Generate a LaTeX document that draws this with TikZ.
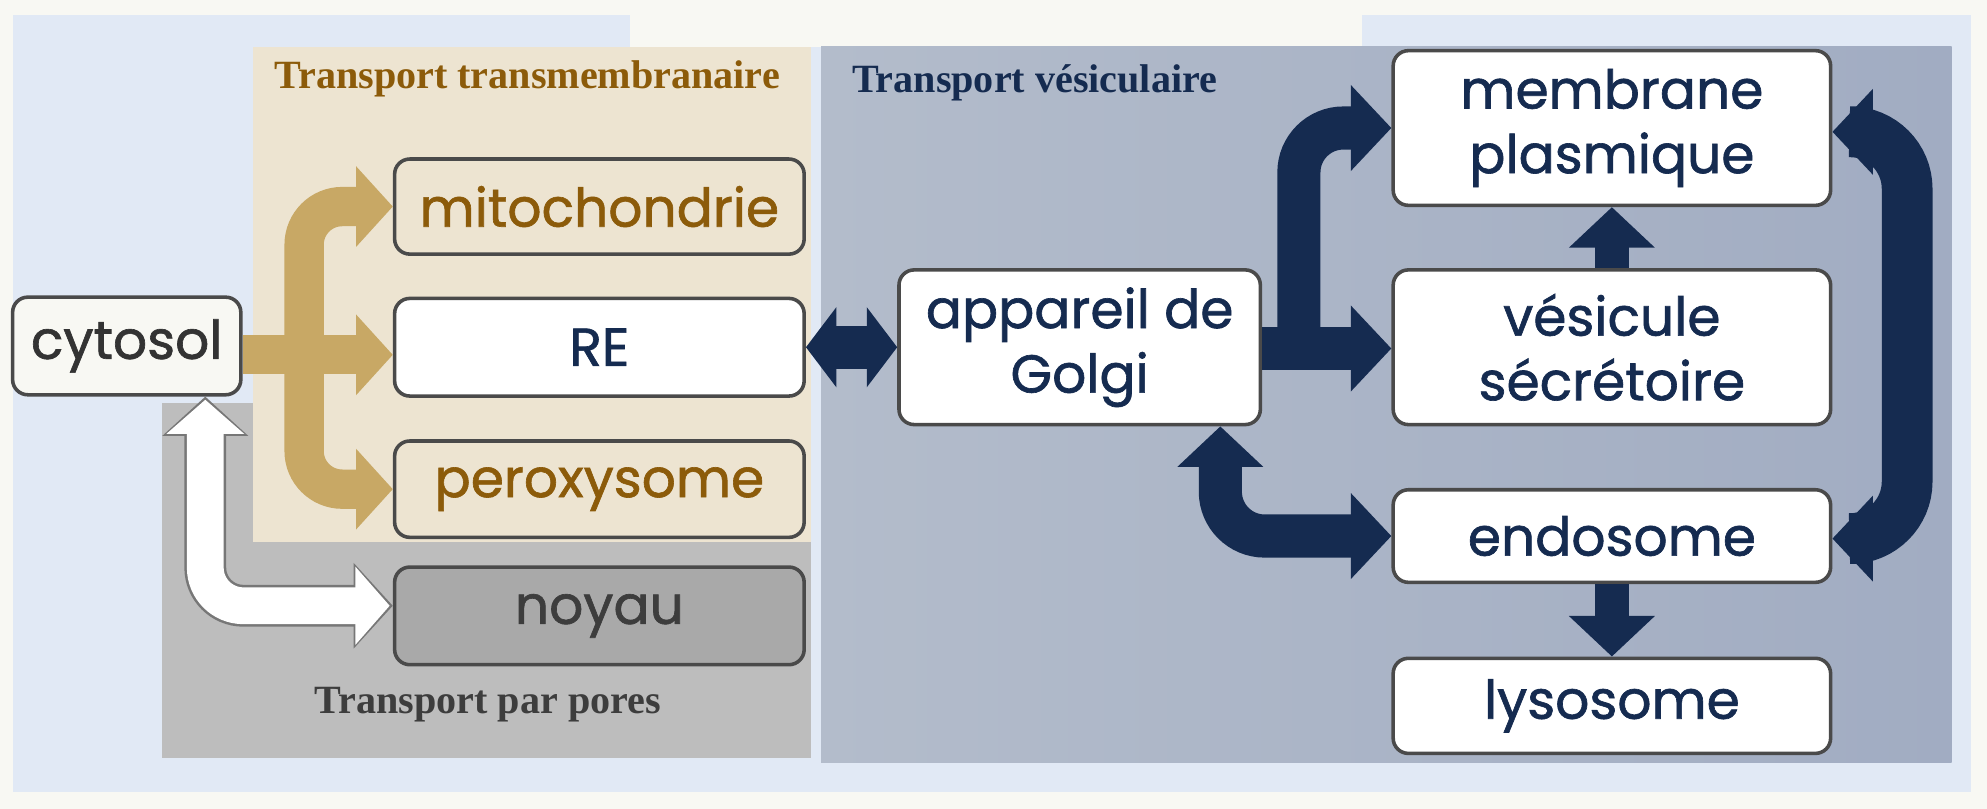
\documentclass[tikz,border=0pt]{standalone}
\usepackage{fontspec}
\setmainfont{Liberation Serif}
\newfontfamily\boxfont[FakeBold=1.2]{Poppins}
\usetikzlibrary{arrows.meta}
\definecolor{cream}{HTML}{F8F8F3}
\definecolor{lblue}{HTML}{E1E9F5}
\definecolor{tanp}{HTML}{EDE4D1}
\definecolor{tana}{HTML}{C8A865}
\definecolor{brownt}{HTML}{8C5B0A}
\definecolor{navy}{HTML}{152B50}
\definecolor{grayp}{HTML}{BDBDBD}
\definecolor{noyf}{HTML}{A9A9A9}
\definecolor{noyt}{HTML}{3D3D3D}
\definecolor{vesL}{HTML}{B3BCCB}
\definecolor{vesR}{HTML}{A1ACC2}
\definecolor{bord}{HTML}{4A4A4A}
\tikzset{
 box/.style={draw=bord,line width=0.8pt,rounded corners=0.12cm,fill=white,
   font=\boxfont\fontsize{12}{14.5}\selectfont,align=center,text=navy,inner sep=0pt},
 title/.style={font=\bfseries\fontsize{9}{11}\selectfont},
 tanarr/.style={draw=tana,line width=0.31cm,rounded corners=0.3cm,-{Triangle[width=0.62cm,length=0.29cm]}},
 navarr/.style={draw=navy,line width=0.34cm,rounded corners=0.35cm},
 navtip/.style={-{Triangle[width=0.66cm,length=0.32cm]}},
 navtips/.style={{Triangle[width=0.66cm,length=0.32cm]}-{Triangle[width=0.66cm,length=0.32cm]}},
}
\begin{document}
\begin{tikzpicture}[x=0.01cm,y=-0.01cm]
\useasboundingbox (0,0) rectangle (1568,638);
\fill[cream] (0,0) rectangle (1568,638);
\fill[lblue] (10,12) rectangle (497,625);
\fill[lblue] (1075,12) rectangle (1555,625);
\fill[lblue] (497,37) rectangle (1075,625);
\fill[grayp] (128,318) rectangle (640,598);
\fill[tanp] (200,37) rectangle (640,428);
\shade[left color=vesL,right color=vesR] (648,37) rectangle (1540,602);
\node[title,text=brownt] (t1) at (416,62) {Transport transmembranaire};
\node[title,text=navy,anchor=west] (t2) at (660,65) {Transport vésiculaire};
\node[title,text=noyt] (t3) at (385,556) {Transport par pores};
% boxes
\node[box,fill=cream,text=black!80,minimum width=1.8cm,minimum height=0.77cm] (cyt) at (100,273) {cytosol};
\node[box,fill=tanp,text=brownt,minimum width=3.23cm,minimum height=0.75cm] (mit) at (473,163) {mitochondrie};
\node[box,minimum width=3.23cm,minimum height=0.77cm] (re) at (473,274) {RE};
\node[box,fill=tanp,text=brownt,minimum width=3.23cm,minimum height=0.76cm] (per) at (473,386) {peroxysome};
\node[box,fill=noyf,text=noyt,minimum width=3.23cm,minimum height=0.77cm] (noy) at (473,486) {noyau};
\node[box,minimum width=2.85cm,minimum height=1.22cm] (gol) at (852,274) {appareil de\\Golgi};
\node[box,minimum width=3.45cm,minimum height=1.22cm] (mem) at (1272,101) {membrane\\plasmique};
\node[box,minimum width=3.45cm,minimum height=1.22cm] (ves) at (1272,274) {vésicule\\sécrétoire};
\node[box,minimum width=3.45cm,minimum height=0.73cm] (endo) at (1272,423) {endosome};
\node[box,minimum width=3.45cm,minimum height=0.75cm] (lys) at (1272,557) {lysosome};
% tan arrows
\coordinate (b0) at (240,280);
\draw[tanarr] (cyt.east |- 0,280) -- (re.west |- 0,280);
\draw[tanarr] (b0) |- (mit.west);
\draw[tanarr] (b0) |- (per.west);
% white arrow
\draw[draw=noyt!70,line width=0.33cm,rounded corners=0.3cm,{Triangle[width=0.66cm,length=0.31cm]}-{Triangle[width=0.66cm,length=0.31cm]}] (cyt.south -| 162,0) |- (noy.west |- 0,478);
\draw[draw=white,line width=0.29cm,rounded corners=0.3cm,{Triangle[width=0.6cm,length=0.27cm]}-{Triangle[width=0.6cm,length=0.27cm]},shorten <=0.025cm,shorten >=0.025cm] (cyt.south -| 162,0) |- (noy.west |- 0,478);
% navy arrows
\draw[navarr,{Triangle[width=0.62cm,length=0.24cm]}-{Triangle[width=0.62cm,length=0.24cm]}] (re.east) -- (gol.west);
\draw[navarr,navtip] (gol.east |- 0,275) -- (ves.west |- 0,275);
\draw[navarr,navtip] (1025,275) |- (mem.west);
\draw[draw=navy,line width=0.27cm,navtip] (ves.north) -- (mem.south);
\draw[navarr,navtips] (gol.south -| 963,0) |- (endo.west);
\draw[draw=navy,line width=0.4cm,rounded corners=0.45cm,navtips] (mem.east |- 0,104) -| (1505,260) |- (endo.east |- 0,425);
\draw[draw=navy,line width=0.27cm,navtip] (endo.south) -- (lys.north);
\end{tikzpicture}
\end{document}
